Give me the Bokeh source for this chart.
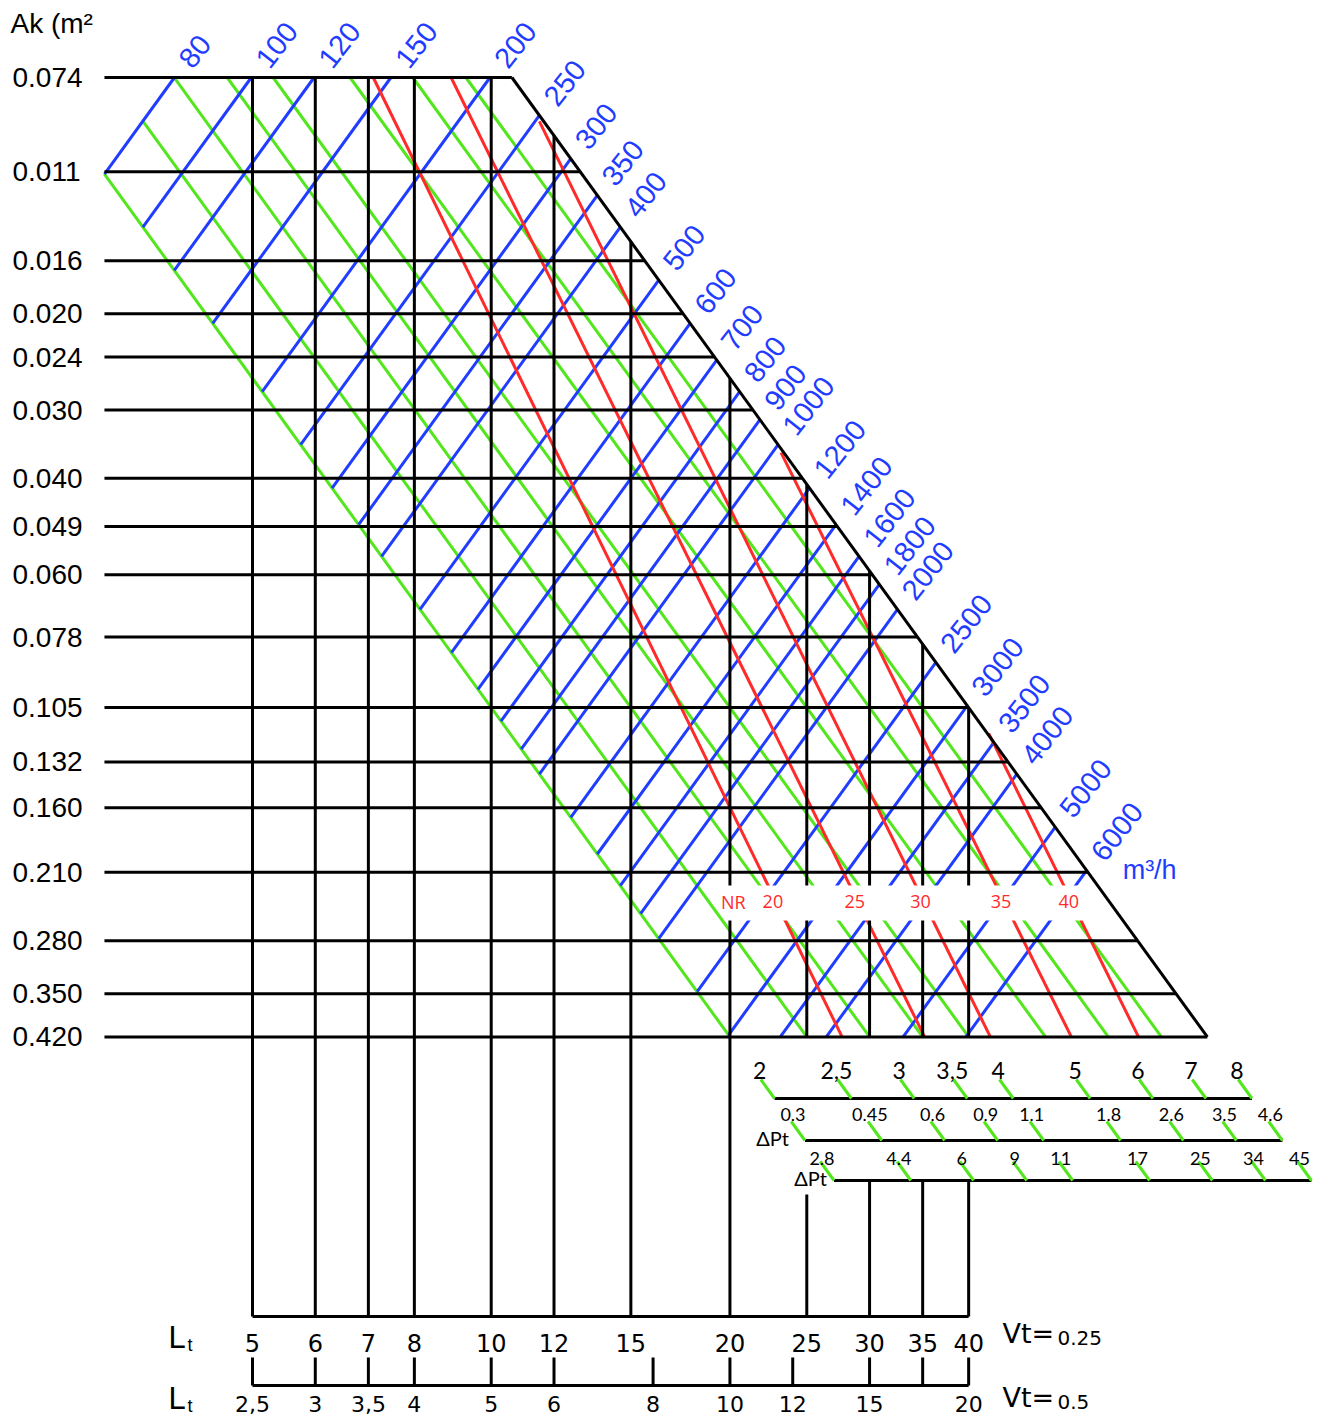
import math
from bokeh.plotting import figure
from bokeh.models import Range1d
from bokeh.embed import file_html
from bokeh.resources import INLINE
from bokeh.core.properties import value

# ---------------- values ----------------
AK_ROWS = [0.0074, 0.011, 0.016, 0.020, 0.024, 0.030, 0.040, 0.049, 0.060,
           0.078, 0.105, 0.132, 0.160, 0.210, 0.280, 0.350, 0.420]
AK_LABELS = ["0.074", "0.011", "0.016", "0.020", "0.024", "0.030", "0.040",
             "0.049", "0.060", "0.078", "0.105", "0.132", "0.160", "0.210",
             "0.280", "0.350", "0.420"]
LT_V025 = [5, 6, 7, 8, 10, 12, 15, 20, 25, 30, 35, 40]
LT_V025_LABELS = ["5", "6", "7", "8", "10", "12", "15", "20", "25", "30", "35", "40"]
LT_V05 = [2.5, 3, 3.5, 4, 5, 6, 8, 10, 12, 15, 17.5, 20]
LT_V05_LABELS = ["2,5", "3", "3,5", "4", "5", "6", "8", "10", "12", "15", "", "20"]
VT_VALUES = [0.25, 0.5]
FLOWS = [80, 100, 120, 150, 200, 250, 300, 350, 400, 500, 600, 700, 800, 900,
         1000, 1200, 1400, 1600, 1800, 2000, 2500, 3000, 3500, 4000, 5000, 6000]
VELOCITIES = [2, 2.5, 3, 3.5, 4, 5, 6, 7, 8]
VELOCITY_LABELS = ["2", "2,5", "3", "3,5", "4", "5", "6", "7", "8"]
DPT_ROW1 = ["0.3", "0.45", "0.6", "0.9", "1.1", "1.8", "2.6", "3.5", "4.6"]
DPT_ROW2 = ["2.8", "4.4", "6", "9", "11", "17", "25", "34", "45"]
NR_LEVELS = [20, 25, 30, 35, 40]
NR_START_LT = [7.1, 8.9, 11.5, 23.2, 42.4]
NR_START_AK = [0.0074, 0.0074, 0.0089, 0.0359, 0.117]
NR_END_LT = [27.7, 35.2, 42.6, 53.9, 65.5]
NR_END_AK = [0.42, 0.42, 0.42, 0.42, 0.42]
LT_AT_VMIN_AKMAX = 20.0   # throw of the 2 m/s line on the 0.420 row

# ---------------- page / scale calibration (layout) ----------------
W, H = 1315, 1418
X_PX_LT5, X_PX_DEC = 252.0, 793.0
Y_PX_TOP, Y_PX_DEC = 77.0, 547.0

def lt_at(px):
    return LT_V025[0] * 10 ** ((px - X_PX_LT5) / X_PX_DEC)

def ak_at(py):
    return AK_ROWS[0] * 10 ** ((py - Y_PX_TOP) / Y_PX_DEC)

def sx(lt, px):
    return lt * 10 ** (px / X_PX_DEC)

def sy(ak, px):  # positive px = downwards
    return ak * 10 ** (px / Y_PX_DEC)

# ---------------- nomogram relations ----------------
AK_TOP, AK_BOT = AK_ROWS[0], AK_ROWS[-1]
V_MIN, V_MAX = VELOCITIES[0], VELOCITIES[-1]
Q_MIN = FLOWS[0]
K = LT_AT_VMIN_AKMAX / (V_MIN * math.sqrt(AK_BOT))

def lt_v(v, ak):
    return K * v * math.sqrt(ak)

def lt_q(q, ak):
    return K * q / (3600.0 * math.sqrt(ak))

BLUE = "#1f3cff"
GREEN = "#52e61c"
RED = "#ff2b2b"
BLACK = "#000000"
SANS = value("Liberation Sans")

p = figure(width=W, height=H, x_axis_type="log", y_axis_type="log",
           x_axis_location=None, y_axis_location=None,
           x_range=Range1d(lt_at(0), lt_at(W)),
           y_range=Range1d(ak_at(H), ak_at(0)),
           toolbar_location=None, output_backend="svg", min_border=0,
           outline_line_color=None, background_fill_color="white",
           border_fill_color="white")
p.grid.visible = False

# green velocity lines
gx, gy = [], []
for v in VELOCITIES[:-1]:
    ak_u = max(AK_TOP, Q_MIN / (3600.0 * v))
    gx.append([lt_v(v, ak_u), lt_v(v, AK_BOT)])
    gy.append([ak_u, AK_BOT])
p.multi_line(gx, gy, line_color=GREEN, line_width=3)

# blue flow lines
bx, by, label_pos = [], [], []
for q in FLOWS:
    ak_u = max(AK_TOP, q / (3600.0 * V_MAX))
    ak_l = min(AK_BOT, q / (3600.0 * V_MIN))
    bx.append([lt_q(q, ak_u), lt_q(q, ak_l)])
    by.append([ak_u, ak_l])
    label_pos.append((lt_q(q, ak_u), ak_u))
p.multi_line(bx, by, line_color=BLUE, line_width=3)

# red NR lines
rx = [[a, b] for a, b in zip(NR_START_LT, NR_END_LT)]
ry = [[a, b] for a, b in zip(NR_START_AK, NR_END_AK)]
p.multi_line(rx, ry, line_color=RED, line_width=3)

# vertical Lt lines
ROW_PX = [1098, 1140, 1180]
ROW_AK = [ak_at(v) for v in ROW_PX]
SCALE1_AK = ak_at(1316)
SCALE2_AK = ak_at(1385)
vx, vy = [], []
for lt in LT_V025:
    ak_t = max(AK_TOP, (lt / (K * V_MAX)) ** 2)
    if lt <= LT_AT_VMIN_AKMAX:
        vx.append([lt, lt]); vy.append([ak_t, SCALE1_AK])
    else:
        vx.append([lt, lt]); vy.append([ak_t, AK_BOT])
        start = ROW_AK[2] if lt >= lt_v(V_MIN, ROW_AK[2]) else ak_at(1194)
        vx.append([lt, lt]); vy.append([start, SCALE1_AK])
p.multi_line(vx, vy, line_color=BLACK, line_width=3)

# white band behind the NR labels
b_top, b_bot = ak_at(885), ak_at(920)
b_left = sx(LT_AT_VMIN_AKMAX, -5)
p.patch([b_left, lt_v(V_MAX, b_top), lt_v(V_MAX, b_bot), b_left],
        [b_top, b_top, b_bot, b_bot], fill_color="white", line_color=None)

# horizontal Ak rows
LT_LEFT = lt_v(V_MIN, Q_MIN / (3600.0 * V_MIN))
hx = [[LT_LEFT, lt_v(V_MAX, ak)] for ak in AK_ROWS]
hy = [[ak, ak] for ak in AK_ROWS]
p.multi_line(hx, hy, line_color=BLACK, line_width=3)

# upper right boundary (v max)
p.line([lt_v(V_MAX, AK_TOP), lt_v(V_MAX, AK_BOT)], [AK_TOP, AK_BOT],
       line_color=BLACK, line_width=3)

# velocity / pressure scale rows
sxs, sys_ = [], []
tx, ty = [], []
for ak in ROW_AK:
    sxs.append([lt_v(V_MIN, ak), lt_v(V_MAX, ak)])
    sys_.append([ak, ak])
    ak_tip = sy(ak, -19)
    for v in VELOCITIES:
        tx.append([lt_v(v, ak), lt_v(v, ak_tip)])
        ty.append([ak, ak_tip])
p.multi_line(sxs, sys_, line_color=BLACK, line_width=3)
p.multi_line(tx, ty, line_color=GREEN, line_width=3)

row_specs = [(VELOCITY_LABELS, -15, -28, "23px"),
             (DPT_ROW1, -12, -26, "18px"),
             (DPT_ROW2, -12, -22, "18px")]
for (labels, dx, dy, fs), ak, rpx in zip(row_specs, ROW_AK, ROW_PX):
    p.text([sx(lt_v(v, ak), dx) for v in VELOCITIES], [ak_at(rpx + dy)] * len(VELOCITIES),
           text=labels, text_font=value("Lato"), text_font_size=fs,
           text_align="center", text_baseline="middle", text_color=BLACK)
for ak, rpx, dx in zip(ROW_AK[1:], ROW_PX[1:], [-16, -7]):
    p.text([sx(lt_v(V_MIN, ak), dx)], [ak_at(rpx - 3)], text=["\u0394Pt"],
           text_font=value("Lato"), text_font_size="20px",
           text_align="right", text_baseline="middle", text_color=BLACK)

# bottom Lt scales
ratio = VT_VALUES[1] / VT_VALUES[0]
p.line([LT_V025[0], LT_V025[-1]], [SCALE1_AK, SCALE1_AK], line_color=BLACK, line_width=3)
p.line([LT_V05[0] * ratio, LT_V05[-1] * ratio], [SCALE2_AK, SCALE2_AK],
       line_color=BLACK, line_width=3)
tick_top = ak_at(1357)
p.multi_line([[lt * ratio, lt * ratio] for lt in LT_V05],
             [[tick_top, SCALE2_AK] for _ in LT_V05], line_color=BLACK, line_width=3)
p.text(LT_V025, [ak_at(1342)] * len(LT_V025), text=LT_V025_LABELS,
       text_font=value("DejaVu Sans"), text_font_size="24px",
       text_align="center", text_baseline="middle", text_color=BLACK)
p.text([lt * ratio for lt in LT_V05], [ak_at(1403)] * len(LT_V05), text=LT_V05_LABELS,
       text_font=value("DejaVu Sans"), text_font_size="22px",
       text_align="center", text_baseline="middle", text_color=BLACK)

# "Lt" and "Vt=" captions
for lc, tc in ((1337, 1344), (1398, 1405)):
    p.text([lt_at(168)], [ak_at(lc)], text=["L"], text_font=SANS,
           text_font_size="31px", text_align="left", text_baseline="middle",
           text_color=BLACK)
    p.text([lt_at(187)], [ak_at(tc)], text=["t"], text_font=SANS,
           text_font_size="18px", text_align="left", text_baseline="middle",
           text_color=BLACK)
for vc, nc, vt in zip((1333, 1397), (1337, 1401), ["0.25", "0.5"]):
    p.text([lt_at(1002)], [ak_at(vc)], text=["Vt="], text_font=value("DejaVu Sans"),
           text_font_size="27px", text_align="left", text_baseline="middle",
           text_color=BLACK)
    p.text([lt_at(1057)], [ak_at(nc)], text=[vt], text_font=value("DejaVu Sans"),
           text_font_size="20px", text_align="left", text_baseline="middle",
           text_color=BLACK)

# Ak labels on the left
p.text([lt_at(12)] * len(AK_ROWS), AK_ROWS, text=AK_LABELS,
       text_font=SANS, text_font_size="28px",
       text_align="left", text_baseline="middle", text_color=BLACK)
p.text([lt_at(10)], [ak_at(23)], text=["Ak (m\u00b2"],
       text_font=SANS, text_font_size="28px",
       text_align="left", text_baseline="middle", text_color=BLACK)

# flow labels
ang = math.radians(52)
G = 17
fx = [sx(lt, G * math.cos(ang)) for lt, ak in label_pos]
fy = [sy(ak, -G * math.sin(ang)) for lt, ak in label_pos]
p.text(fx, fy, text=[str(q) for q in FLOWS], angle=ang,
       text_font=SANS, text_font_size="29px",
       text_align="left", text_baseline="middle", text_color=BLUE)
lt6, ak6 = label_pos[-1]
p.text([sx(lt6, 36)], [sy(ak6, 0)], text=["m\u00b3/h"],
       text_font=SANS, text_font_size="27px",
       text_align="left", text_baseline="middle", text_color=BLUE)

# NR labels
ak_lab = ak_at(901)
nr_x = []
for lt0, ak0, lt1, ak1 in zip(NR_START_LT, NR_START_AK, NR_END_LT, NR_END_AK):
    t = (math.log10(ak_lab) - math.log10(ak0)) / (math.log10(ak1) - math.log10(ak0))
    lt = 10 ** (math.log10(lt0) + t * (math.log10(lt1) - math.log10(lt0)))
    nr_x.append(sx(lt, -3))
p.text(nr_x, [ak_lab] * len(NR_LEVELS), text=[str(n) for n in NR_LEVELS],
       text_font=value("Open Sans"), text_font_size="18px",
       text_align="center", text_baseline="middle", text_color=RED)
p.text([sx(LT_AT_VMIN_AKMAX, -9)], [ak_lab], text=["NR"],
       text_font=value("Open Sans"), text_font_size="18px",
       text_align="left", text_baseline="middle", text_color=RED)

open("out.html", "w").write(file_html(p, INLINE))
